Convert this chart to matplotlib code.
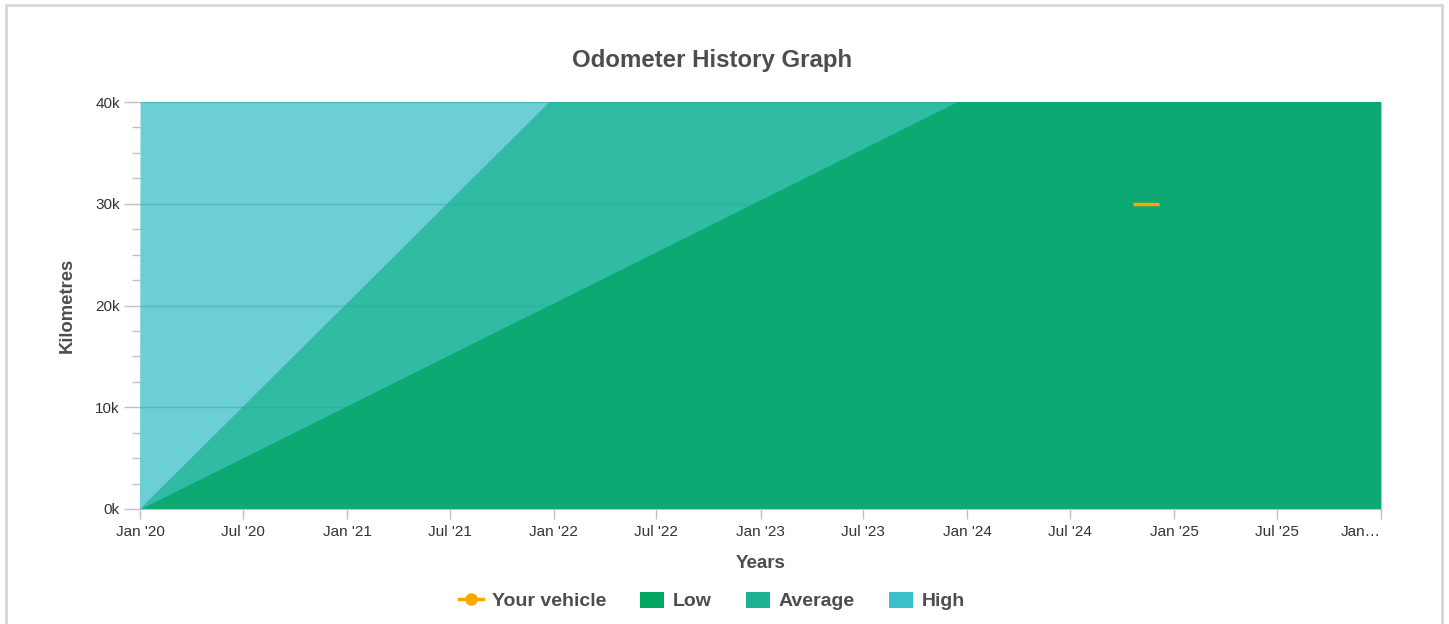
import matplotlib
matplotlib.use("Agg")
import matplotlib.pyplot as plt
from matplotlib.lines import Line2D
from matplotlib.patches import Patch, Rectangle
import numpy as np

plt.rcParams["font.family"] = ["Liberation Sans", "DejaVu Sans"]

# Data
band_dates = np.array(["2020-01-01", "2026-01-01"], dtype="datetime64[D]")
low_km = [0, 60800]
average_km = [0, 121200]
high_km = [0, 90000000]

vehicle_dates = np.array(["2024-10-20", "2024-12-04"], dtype="datetime64[D]")
vehicle_km = [30000, 30000]

tick_dates = np.array(["2020-01-01", "2020-07-01", "2021-01-01", "2021-07-01",
                       "2022-01-01", "2022-07-01", "2023-01-01", "2023-07-01",
                       "2024-01-01", "2024-07-01", "2025-01-01", "2025-07-01",
                       "2026-01-01"], dtype="datetime64[D]")
tick_labels = ["Jan '20", "Jul '20", "Jan '21", "Jul '21", "Jan '22", "Jul '22",
               "Jan '23", "Jul '23", "Jan '24", "Jul '24", "Jan '25", "Jul '25",
               "Jan\u2026"]
y_ticks = [0, 10000, 20000, 30000, 40000]
y_labels = ["0k", "10k", "20k", "30k", "40k"]

c_vehicle = "#ffa500"
c_low = "#00a562"
c_avg = "#1db394"
c_high = "#3bbfc8"
txt = "#4d4d4d"

W, H = 1449, 624
px = 72 / 100  # one pixel in points
fig = plt.figure(figsize=(W / 100, H / 100), dpi=100)
ax = fig.add_axes([140 / W, 1 - 509 / H, (1381 - 140) / W, (509 - 102) / H])

# areas (High at the back, Low on top)
ax.fill_between(band_dates, 0, high_km, color=c_high, alpha=0.75, lw=0, zorder=2)
ax.fill_between(band_dates, 0, average_km, color=c_avg, alpha=0.75, lw=0, zorder=3)
ax.fill_between(band_dates, 0, low_km, color=c_low, alpha=0.75, lw=0, zorder=4)
ax.plot(vehicle_dates, vehicle_km, color=c_vehicle, lw=2.5, solid_capstyle="butt", zorder=5)

ax.set_xlim(band_dates[0], band_dates[-1])
ax.set_ylim(0, 40000)

ax.set_xticks(tick_dates)
ax.set_xticklabels(tick_labels)
ax.get_xticklabels()[-1].set_horizontalalignment("right")
ax.set_yticks(y_ticks)
ax.set_yticklabels(y_labels)
ax.set_yticks(np.arange(0, 40001, 2500), minor=True)

ax.tick_params(axis="x", length=10 * px, width=1, color="#c0c0c0", labelsize=11,
               labelcolor="#333333", pad=4)
ax.tick_params(axis="y", which="major", length=16 * px, width=1, color="#c0c0c0",
               labelsize=11, labelcolor="#333333", pad=3)
ax.tick_params(axis="y", which="minor", length=8 * px, width=1, color="#c0c0c0")

ax.grid(axis="y", which="major", color="#9aa8a8", lw=1, zorder=0)
ax.set_axisbelow(True)
for s in ["left", "right", "top"]:
    ax.spines[s].set_visible(False)
ax.spines["bottom"].set_color("#c0c0c0")
ax.spines["bottom"].set_zorder(6)

ax.set_xlabel("Years", fontsize=13.5, fontweight="bold", color=txt, labelpad=12)
ax.set_ylabel("Kilometres", fontsize=13.3, fontweight="bold", color=txt, labelpad=14)
fig.text(712 / W, 1 - 61 / H, "Odometer History Graph", ha="center", va="center",
         fontsize=17.3, fontweight="bold", color=txt)

handles = [
    Line2D([], [], color=c_vehicle, lw=2.5, marker="o", markersize=8),
    Patch(facecolor=c_low, edgecolor="none"),
    Patch(facecolor=c_avg, edgecolor="none"),
    Patch(facecolor=c_high, edgecolor="none"),
]
leg = fig.legend(handles, ["Your vehicle", "Low", "Average", "High"],
                 loc="center", bbox_to_anchor=(712 / W, 1 - 601 / H), ncol=4,
                 frameon=False, handlelength=1.25, handleheight=0.9,
                 handletextpad=0.45, columnspacing=1.75,
                 prop={"weight": "bold", "size": 14})
for t in leg.get_texts():
    t.set_color(txt)

# outer frame
fig.add_artist(Rectangle((6 / W, -0.05), (1442 - 6) / W, 1.05 - 5 / H,
                         transform=fig.transFigure, fill=False,
                         edgecolor="#d6d6d6", lw=2))

fig.savefig("out.png", dpi=100)
